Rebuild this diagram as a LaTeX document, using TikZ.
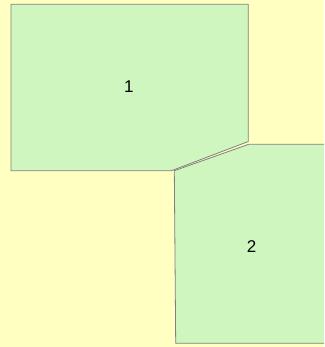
\documentclass[tikz,border=0pt]{standalone}
\usepackage{fontspec}
\setmainfont{Liberation Sans}
\definecolor{bg}{RGB}{255,255,194}
\definecolor{region}{RGB}{206,246,190}
\definecolor{edge}{RGB}{128,128,128}
\begin{document}
\begin{tikzpicture}[x=1pt,y=-1pt,
  regionshape/.style={fill=region,draw=edge,line width=0.8pt,line join=miter},
  lbl/.style={font=\fontsize{17}{20}\selectfont,text=black,inner sep=0pt}]
\fill[bg] (0,0) rectangle (324,347);
\useasboundingbox (0,0) rectangle (324,347);
\begin{scope}
\clip (0,0) rectangle (324,347);
\draw[regionshape] (11,4.3) -- (248.3,4.3) -- (248.3,141.5) -- (171.5,170.7) -- (11,170.7) -- cycle;
\draw[regionshape] (174.3,170.7) -- (248.7,144.3) -- (330,144.3) -- (330,343.3) -- (175.7,343.3) -- cycle;
\end{scope}
\node[lbl] (n1) at (128.8,86.3) {1};
\node[lbl] (n2) at (251.7,246.3) {2};
\end{tikzpicture}
\end{document}
